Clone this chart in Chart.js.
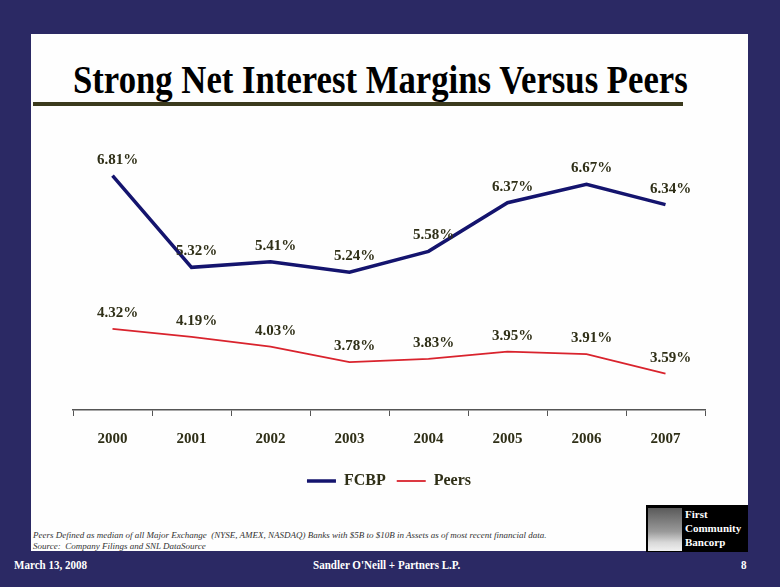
<!DOCTYPE html>
<html>
<head>
<meta charset="utf-8">
<script src="https://cdn.jsdelivr.net/npm/chart.js@4.4.1/dist/chart.umd.min.js"></script>
<style>
  body { margin: 0; width: 780px; height: 587px; background: #2b2964; position: relative; overflow: hidden; font-family: "Liberation Serif", "Times New Roman", serif; }
  #panel { position: absolute; left: 31px; top: 34px; width: 717px; height: 517px; background: #fefefe; }
  #title { position: absolute; left: 73px; top: 58px; font-size: 39px; font-weight: bold; color: #000; white-space: nowrap; transform: scaleX(0.89); transform-origin: left top; line-height: 44px; }
  #rule { position: absolute; left: 33px; top: 102px; width: 650px; height: 4px; background: #3b3a1d; }
  #chartBox { position: absolute; left: 31px; top: 110px; width: 717px; height: 400px; }
  .note { position: absolute; left: 33px; font-size: 9px; font-style: italic; color: #333; white-space: nowrap; }
  .foot { position: absolute; top: 558px; font-size: 12px; font-weight: bold; color: #fff; white-space: nowrap; transform: scaleX(0.92); transform-origin: left top; }
  #logo { position: absolute; left: 646px; top: 505px; width: 102px; height: 47px; background: #000; }
  #logo .pic { position: absolute; left: 2px; top: 3px; width: 34px; height: 43px; background: linear-gradient(#5a5a5a, #9a9a9a 55%, #d8d8d8 80%, #f0f0f0); }
  #logo .txt { position: absolute; left: 39px; top: 2px; color: #fff; font-weight: bold; font-size: 11px; line-height: 14px; }
</style>
</head>
<body>
<div id="panel"></div>
<div id="title">Strong Net Interest Margins Versus Peers</div>
<div id="rule"></div>
<div id="chartBox"><canvas id="nimChart" width="717" height="400"></canvas></div>
<div class="note" style="top:530px">Peers Defined as median of all Major Exchange&nbsp; (NYSE, AMEX, NASDAQ) Banks with $5B to $10B in Assets as of most recent financial data.</div>
<div class="note" style="top:541px">Source:&nbsp; Company Filings and SNL DataSource</div>
<div id="logo"><div class="pic"></div><div class="txt">First<br>Community<br>Bancorp</div></div>
<div class="foot" style="left:14px">March 13, 2008</div>
<div class="foot" style="left:313px">Sandler O'Neill + Partners L.P.</div>
<div class="foot" style="left:741px">8</div>
<script>
const years = ['2000', '2001', '2002', '2003', '2004', '2005', '2006', '2007'];
const fcbp = [6.81, 5.32, 5.41, 5.24, 5.58, 6.37, 6.67, 6.34];
const peers = [4.32, 4.19, 4.03, 3.78, 3.83, 3.95, 3.91, 3.59];

// draws the percentage above every point
const valueLabels = {
  id: 'valueLabels',
  afterDatasetsDraw(chart) {
    const ctx = chart.ctx;
    ctx.save();
    ctx.font = 'bold 15px "Liberation Serif", serif';
    ctx.fillStyle = '#2f2f17';
    ctx.textAlign = 'center';
    ctx.textBaseline = 'alphabetic';
    chart.data.datasets.forEach((ds, i) => {
      chart.getDatasetMeta(i).data.forEach((pt, j) => {
        ctx.fillText(ds.data[j].toFixed(2) + '%', pt.x + 5, pt.y - 12);
      });
    });
    ctx.restore();
  }
};

new Chart(document.getElementById('nimChart'), {
  type: 'line',
  data: {
    labels: years,
    datasets: [
      { label: 'FCBP', data: fcbp, borderColor: '#14146e', backgroundColor: '#14146e', borderWidth: 3.5, pointRadius: 0, tension: 0 },
      { label: 'Peers', data: peers, borderColor: '#d9232d', backgroundColor: '#d9232d', borderWidth: 1.8, pointRadius: 0, tension: 0 }
    ]
  },
  options: {
    responsive: false,
    animation: false,
    maintainAspectRatio: false,
    layout: { padding: { left: 42, right: 43, top: 54, bottom: 11 } },
    plugins: {
      tooltip: { enabled: false },
      legend: {
        position: 'bottom',
        labels: {
          usePointStyle: true,
          pointStyle: 'line',
          pointStyleWidth: 29,
          padding: 11,
          color: '#2f2f17',
          font: { family: '"Liberation Serif", serif', size: 16, weight: 'bold' }
        }
      }
    },
    scales: {
      x: {
        offset: true,
        grid: { display: true, offset: true, drawOnChartArea: false, drawTicks: true, tickLength: 6, color: '#555' },
        border: { color: '#555', width: 1.5 },
        ticks: { color: '#2f2f17', padding: 14, font: { family: '"Liberation Serif", serif', size: 15, weight: 'bold' } }
      },
      y: { display: false, min: 3, max: 7 }
    }
  },
  plugins: [valueLabels]
});
</script>
</body>
</html>
